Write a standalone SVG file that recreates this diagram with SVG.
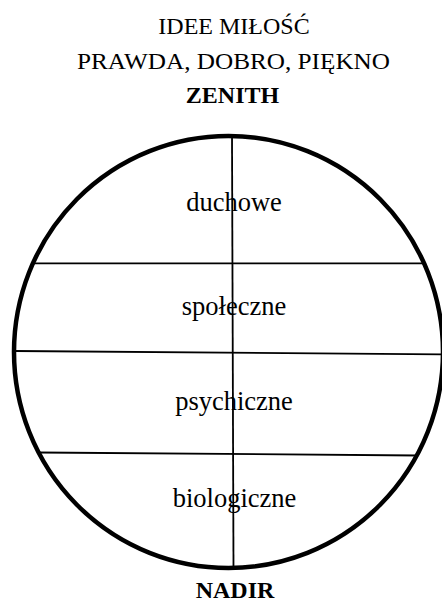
<svg xmlns="http://www.w3.org/2000/svg" width="442" height="604" viewBox="0 0 442 604">
<style>
text{font-family:"Liberation Serif","Times New Roman",serif;fill:#000;text-anchor:middle}
.t{font-size:24px}
.b{font-size:24px;font-weight:bold}
.l{font-size:26.5px}
.thin{stroke:#000;stroke-width:1.8;fill:none}
</style>
<rect width="442" height="604" fill="#fff"/>
<g id="header">
<text class="t" x="234" y="34">IDEE MIŁOŚĆ</text>
<text class="t" x="233.5" y="69" textLength="313" lengthAdjust="spacingAndGlyphs">PRAWDA, DOBRO, PIĘKNO</text>
<text class="b" x="232.5" y="103">ZENITH</text>
</g>
<g id="circle">
<ellipse cx="228.5" cy="352" rx="214.5" ry="216" fill="none" stroke="#000" stroke-width="4.5"/>
</g>
<g id="connectors">
<line class="thin" x1="232" y1="136" x2="233.5" y2="569"/>
<line class="thin" x1="33" y1="263.3" x2="424" y2="263.3"/>
<line class="thin" x1="15" y1="351" x2="442" y2="354.3"/>
<line class="thin" x1="38" y1="452.5" x2="418" y2="455.5"/>
</g>
<g id="duchowe"><text class="l" x="234" y="211">duchowe</text></g>
<g id="spoleczne"><text class="l" x="234" y="315">społeczne</text></g>
<g id="psychiczne"><text class="l" x="234" y="410">psychiczne</text></g>
<g id="biologiczne"><text class="l" x="234.5" y="507">biologiczne</text></g>
<g id="nadir"><text class="b" x="235" y="598" font-size="25">NADIR</text></g>
</svg>
